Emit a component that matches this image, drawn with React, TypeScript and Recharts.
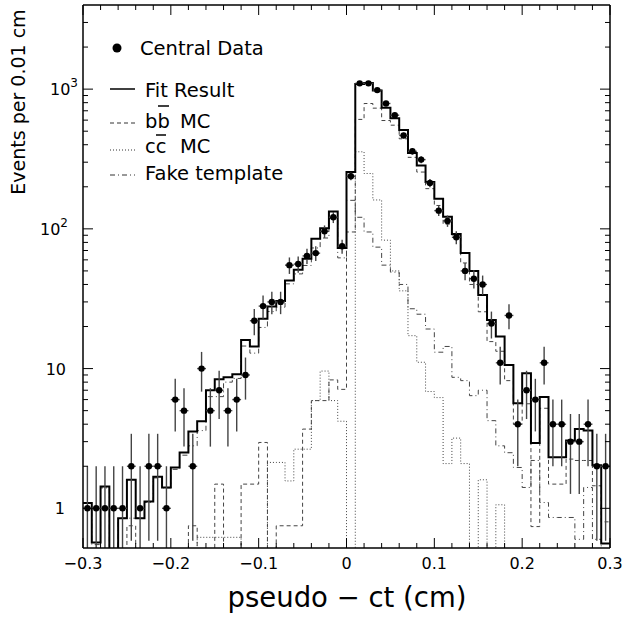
import React from 'react';
import { ComposedChart, Line, Scatter, ErrorBar, XAxis, YAxis, Legend } from 'recharts';

const FONT = '"DejaVu Sans", sans-serif';

// binning of the pseudo-ct histogram (cm)
const X_MIN = -0.3;
const X_MAX = 0.3;
const BIN_WIDTH = 0.01;
const Y_MIN = 0.52;
const Y_MAX = 4000;

// events per bin, 60 bins from -0.3 to 0.3
const centralData = [
  1, 1, 1, 1, 1, 2, 1, 2, 2, 1,
  6, 5, 2, 10, 5, 7, 5, 6, 9, 22,
  28, 30, 30, 55, 56, 64, 67, 96, 121, 75,
  238, 1100, 1100, 984, 789, 651, 466, 359, 313, 213,
  135, 114, 87, 50, 44, 40, 21, 11, 24, 4,
  7, 6, 11, 4, 4, 3, 3, 4, 2, 2,
];

const fitResult = [
  1.09, 0.57, 1.43, 0.4, 0.85, 1.6, 0.85, 1.12, 1.68, 1.41,
  1.96, 2.51, 3.55, 4.2, 7.0, 8.4, 8.66, 9.1, 16.0, 14.4,
  22.7, 27.8, 30.4, 42.7, 51, 61, 85, 101, 133, 73,
  255, 1086, 1108, 979, 735, 619, 509, 349, 284, 216,
  164, 122, 92, 67.3, 50, 33.6, 22.3, 17.0, 10.6, 5.64,
  9.25, 2.93, 6.25, 2.32, 2.32, 3.06, 3.69, 3.61, 2.03, 0.56,
];

const bbMC = [
  0, 0, 0, 0, 0, 0.75, 0, 0, 0, 0,
  0, 0, 0.75, 0, 0, 1.49, 0, 0, 1.49, 1.49,
  2.96, 0, 0.75, 0.75, 0.75, 3.69, 5.9, 5.9, 8.3, 7.1,
  95, 607, 789, 731, 596, 552, 441, 325, 255, 194,
  147, 108, 90, 57, 40, 25.5, 15.6, 13.3, 8.2, 4.0,
  5.6, 0.74, 5.2, 1.49, 1.49, 2.25, 2.2, 2.2, 1.45, 0.8,
];

const ccMC = [
  0, 0, 0, 0, 0, 0, 0, 0, 0, 0,
  0, 0, 0, 0.62, 0.62, 0.62, 0.62, 0.62, 0, 0,
  0, 2.13, 2.13, 1.57, 2.65, 2.65, 5.9, 9.6, 5.9, 4.2,
  0, 356, 249, 161, 83, 50, 36, 17.2, 11.1, 6.85,
  6.2, 2.09, 3.18, 2.09, 0, 1.6, 0, 1.06, 0, 0,
  0, 0, 0, 0, 0, 0, 0, 0, 0, 0,
];

const fakeTemplate = [
  1.0, 0.55, 1.4, 0.3, 0.85, 0.85, 0.85, 1.1, 1.65, 1.4,
  1.9, 2.4, 2.8, 3.6, 6.3, 6.3, 8.0, 8.5, 14.5, 12.9,
  19.7, 25.6, 27.5, 40.4, 47.6, 54.7, 73, 86, 119, 62,
  160, 121, 95, 74, 55, 49, 40, 26.8, 24.5, 19.2,
  13.1, 14.4, 8.66, 8.2, 6.4, 7.0, 4.24, 2.8, 2.5, 1.96,
  1.41, 2.2, 1.1, 0.86, 0.86, 0.86, 0.6, 1.41, 0.6, 0,
];

const xTicks = [
  -0.3, -0.28, -0.26, -0.24, -0.22, -0.2, -0.18, -0.16, -0.14, -0.12,
  -0.1, -0.08, -0.06, -0.04, -0.02, 0, 0.02, 0.04, 0.06, 0.08,
  0.1, 0.12, 0.14, 0.16, 0.18, 0.2, 0.22, 0.24, 0.26, 0.28, 0.3,
];
const xMajor = [-0.3, -0.2, -0.1, 0, 0.1, 0.2, 0.3];
const xLabels = ['\u22120.3', '\u22120.2', '\u22120.1', '0', '0.1', '0.2', '0.3'];

const yTicks = [
  1, 2, 3, 4, 5, 6, 7, 8, 9,
  10, 20, 30, 40, 50, 60, 70, 80, 90,
  100, 200, 300, 400, 500, 600, 700, 800, 900,
  1000, 2000, 3000,
];
const yDecades = [1, 10, 100, 1000];
const yBase = ['1', '10', '10', '10'];
const yExp = ['', '', '2', '3'];

// ---- tables for recharts ----
const FLOOR = 0.1; // empty bins sit below the axis and get clipped
const edge = (i: number) => +(X_MIN + i * BIN_WIDTH).toFixed(3);
const stepRows = (vals: number[]) => [
  ...vals.map((v, i) => ({ x: edge(i), v: v > 0 ? v : FLOOR })),
  { x: X_MAX, v: vals[vals.length - 1] > 0 ? vals[vals.length - 1] : FLOOR },
];

const fitRows = stepRows(fitResult);
const bbRows = stepRows(bbMC);
const ccRows = stepRows(ccMC);
const fakeRows = stepRows(fakeTemplate);

const pointRows = centralData.map((n, i) => {
  const err = Math.sqrt(n);
  return {
    x: +(edge(i) + BIN_WIDTH / 2).toFixed(4),
    y: n,
    ey: [Math.min(err, n - Y_MIN), err],
    ex: BIN_WIDTH / 2,
  };
});

const isMajorX = (v: number) => xMajor.findIndex((m) => Math.abs(m - v) < 1e-6);

const BottomTick = (props: any) => {
  const { x, y, payload } = props;
  const k = isMajorX(payload.value);
  return (
    <g>
      <line x1={x} y1={y} x2={x} y2={y - (k >= 0 ? 10 : 5)} stroke="#000" />
      {k >= 0 && (
        <text x={x} y={y + 21} textAnchor="middle" fontSize={16} fontFamily={FONT} fill="#000">
          {xLabels[k]}
        </text>
      )}
    </g>
  );
};

const TopTick = (props: any) => {
  const { x, y, payload } = props;
  const k = isMajorX(payload.value);
  return <line x1={x} y1={y} x2={x} y2={y + (k >= 0 ? 10 : 5)} stroke="#000" />;
};

// right edge of each decade label
const labelRight = [65, 66, 68, 78];

const LeftTick = (props: any) => {
  const { x, y, payload } = props;
  const k = yDecades.indexOf(payload.value);
  return (
    <g>
      <line x1={x} y1={y} x2={x + (k >= 0 ? 10 : 5)} y2={y} stroke="#000" />
      {k >= 0 && (
        <text x={labelRight[k]} y={y + 6} textAnchor="end" fontSize={16} fontFamily={FONT} fill="#000">
          {yBase[k]}
          {yExp[k] && (
            <tspan dy={-8} fontSize={12}>
              {yExp[k]}
            </tspan>
          )}
        </text>
      )}
    </g>
  );
};

const RightTick = (props: any) => {
  const { x, y, payload } = props;
  const k = yDecades.indexOf(payload.value);
  return <line x1={x} y1={y} x2={x - (k >= 0 ? 10 : 5)} y2={y} stroke="#000" />;
};

const XTitle = () => (
  <text x={347} y={607} textAnchor="middle" fontSize={27.5} fontFamily={FONT} fill="#000">
    pseudo {'\u2212'} ct (cm)
  </text>
);

const YTitle = () => (
  <text
    x={25}
    y={102}
    transform="rotate(-90, 25, 102)"
    textAnchor="middle"
    fontSize={19}
    fontFamily={FONT}
    fill="#000"
  >
    Events per 0.01 cm
  </text>
);

const LegendBox = () => (
  <svg width={300} height={200} style={{ display: 'block' }}>
    <g fontFamily={FONT} fontSize={19.5} fill="#000">
      <circle cx={117} cy={48} r={4.5} fill="#000" />
      <text x={140} y={55}>Central Data</text>

      <line x1={110} x2={135} y1={89} y2={89} stroke="#000" strokeWidth={1.5} />
      <text x={145} y={97}>Fit Result</text>

      <line x1={110} x2={135} y1={123} y2={123} stroke="#333" strokeDasharray="4 3" />
      <text x={145} y={128}>bb</text>
      <line x1={158} x2={169} y1={106} y2={106} stroke="#000" strokeWidth={1.5} />
      <text x={180} y={128}>MC</text>

      <line x1={110} x2={135} y1={150} y2={150} stroke="#333" strokeDasharray="1 2" />
      <text x={145} y={153}>cc</text>
      <line x1={156} x2={166} y1={135} y2={135} stroke="#000" strokeWidth={1.5} />
      <text x={180} y={153}>MC</text>

      <line x1={110} x2={135} y1={175} y2={175} stroke="#333" strokeDasharray="5 3 1 3" />
      <text x={145} y={180}>Fake template</text>
    </g>
  </svg>
);

const App = () => (
  <div style={{ position: 'absolute', left: 0, top: 0, width: 625, height: 618, background: '#fff' }}>
    <ComposedChart width={625} height={618} margin={{ top: 4, right: 14, bottom: 0, left: 0 }}>
      <XAxis
        xAxisId="b"
        dataKey="x"
        type="number"
        domain={[X_MIN, X_MAX]}
        allowDataOverflow
        ticks={xTicks}
        interval={0}
        tickSize={0}
        tickMargin={0}
        tickLine={false}
        tick={(p: any) => <BottomTick {...p} />}
        axisLine={{ stroke: '#000', strokeWidth: 1.5 }}
        height={70}
        label={<XTitle />}
      />
      <XAxis
        xAxisId="t"
        orientation="top"
        dataKey="x"
        type="number"
        domain={[X_MIN, X_MAX]}
        allowDataOverflow
        ticks={xTicks}
        interval={0}
        tickSize={0}
        tickMargin={0}
        tickLine={false}
        tick={(p: any) => <TopTick {...p} />}
        axisLine={{ stroke: '#000', strokeWidth: 1.5 }}
        height={1}
      />
      <YAxis
        yAxisId="l"
        type="number"
        scale="log"
        domain={[Y_MIN, Y_MAX]}
        allowDataOverflow
        ticks={yTicks}
        interval={0}
        tickSize={0}
        tickMargin={0}
        tickLine={false}
        tick={(p: any) => <LeftTick {...p} />}
        axisLine={{ stroke: '#000', strokeWidth: 1.5 }}
        width={83}
        label={<YTitle />}
      />
      <YAxis
        yAxisId="r"
        orientation="right"
        type="number"
        scale="log"
        domain={[Y_MIN, Y_MAX]}
        allowDataOverflow
        ticks={yTicks}
        interval={0}
        tickSize={0}
        tickMargin={0}
        tickLine={false}
        tick={(p: any) => <RightTick {...p} />}
        axisLine={{ stroke: '#000', strokeWidth: 1.5 }}
        width={1}
      />
      <Legend
        layout="horizontal"
        verticalAlign="middle"
        align="center"
        wrapperStyle={{ left: 0, top: 0, width: 300, height: 200 }}
        content={() => <LegendBox />}
      />
      <Line
        xAxisId="b"
        yAxisId="l"
        data={fakeRows}
        dataKey="v"
        type="stepAfter"
        stroke="#444"
        strokeWidth={1}
        strokeDasharray="5 3 1 3"
        dot={false}
        activeDot={false}
        isAnimationActive={false}
      />
      <Line
        xAxisId="b"
        yAxisId="l"
        data={ccRows}
        dataKey="v"
        type="stepAfter"
        stroke="#444"
        strokeWidth={1}
        strokeDasharray="1 2"
        dot={false}
        activeDot={false}
        isAnimationActive={false}
      />
      <Line
        xAxisId="b"
        yAxisId="l"
        data={bbRows}
        dataKey="v"
        type="stepAfter"
        stroke="#444"
        strokeWidth={1}
        strokeDasharray="4 3"
        dot={false}
        activeDot={false}
        isAnimationActive={false}
      />
      <Line
        xAxisId="b"
        yAxisId="l"
        data={fitRows}
        dataKey="v"
        type="stepAfter"
        stroke="#000"
        strokeWidth={2}
        dot={false}
        activeDot={false}
        isAnimationActive={false}
      />
      <Scatter
        xAxisId="b"
        yAxisId="l"
        data={pointRows}
        dataKey="y"
        isAnimationActive={false}
        shape={(p: any) => <circle cx={p.cx} cy={p.cy} r={3.2} fill="#000" />}
      >
        <ErrorBar dataKey="ey" direction="y" width={0} stroke="#444" strokeWidth={1.4} isAnimationActive={false} />
        <ErrorBar dataKey="ex" direction="x" width={0} stroke="#444" strokeWidth={1.4} isAnimationActive={false} />
      </Scatter>
    </ComposedChart>
  </div>
);

export default App;
